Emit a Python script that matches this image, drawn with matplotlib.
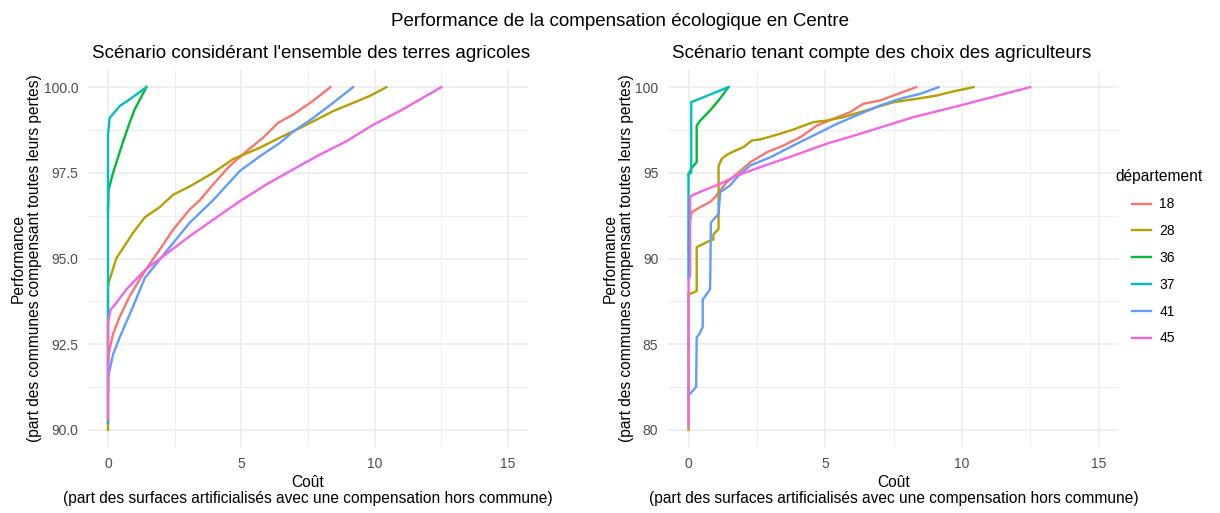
import matplotlib
matplotlib.use("Agg")
import matplotlib.pyplot as plt
from matplotlib.ticker import MultipleLocator

plt.rcParams['font.family'] = ['Liberation Sans', 'DejaVu Sans']

departements = ["18", "28", "36", "37", "41", "45"]
colors = ["#F8766D", "#B79F00", "#00BA38", "#00BFC4", "#619CFF", "#F564E3"]

# Scenario 1: all agricultural land  (cost x, performance y)
s1_x = {
    "18": [0, 0.02, 0.19, 0.44, 0.81, 1.44, 1.94, 2.44, 3.06, 3.44, 3.94, 4.56, 5.19, 5.81, 6.38, 6.94, 7.69, 8.34],
    "28": [0, 0, 0.04, 0.31, 0.56, 0.94, 1.38, 1.94, 2.44, 3.06, 3.94, 4.69, 5.69, 6.56, 7.44, 8.44, 9.19, 9.81, 10.44],
    "36": [0, 0.02, 0.19, 0.56, 0.81, 1.0, 1.44],
    "37": [0, 0, 0.06, 0.44, 0.81, 1.44],
    "41": [0, 0.02, 0.19, 0.44, 0.94, 1.38, 1.94, 2.44, 3.06, 3.94, 4.94, 5.69, 6.44, 6.94, 7.69, 8.44, 9.19],
    "45": [0, 0, 0.09, 0.31, 0.69, 1.06, 1.44, 2.06, 3.06, 3.94, 4.94, 5.94, 6.94, 7.94, 8.94, 9.94, 10.94, 12.5],
}
s1_y = {
    "18": [91.9, 92.2, 92.8, 93.3, 93.9, 94.7, 95.26, 95.84, 96.43, 96.7, 97.16, 97.7, 98.13, 98.52, 98.96, 99.2, 99.6, 100.0],
    "28": [90.0, 94.2, 94.33, 95.0, 95.3, 95.75, 96.2, 96.5, 96.86, 97.1, 97.5, 97.9, 98.23, 98.57, 98.9, 99.3, 99.54, 99.74, 100.0],
    "36": [96.4, 97.0, 97.5, 98.4, 98.96, 99.35, 100.0],
    "37": [90.2, 98.6, 99.1, 99.45, 99.64, 100.0],
    "41": [91.0, 91.6, 92.2, 92.7, 93.6, 94.43, 94.97, 95.45, 96.04, 96.7, 97.55, 97.98, 98.37, 98.7, 99.1, 99.54, 100.0],
    "45": [90.3, 93.1, 93.5, 93.7, 94.1, 94.4, 94.7, 95.06, 95.65, 96.13, 96.67, 97.16, 97.6, 98.03, 98.42, 98.9, 99.3, 100.0],
}

# Scenario 2: farmers' choices
s2_x = {
    "18": [0, 0.04, 0.12, 0.43, 0.79, 0.98, 1.16, 1.4, 1.77, 2.26, 2.87, 3.48, 4.09, 4.7, 5.3, 5.91, 6.4, 7.01, 7.5, 8.33],
    "28": [0, 0, 0.3, 0.3, 0.43, 0.79, 0.91, 0.91, 1.1, 1.1, 1.22, 1.4, 1.65, 2.01, 2.32, 2.62, 3.23, 3.84, 4.57, 5.06, 5.67, 6.28, 6.89, 7.5, 8.35, 9.09, 9.57, 10.43],
    "36": [0, 0.12, 0.3, 0.3, 0.43, 0.79, 1.1, 1.46],
    "37": [0, 0, 0.1, 0.1, 1.46],
    "41": [0, 0.28, 0.3, 0.4, 0.52, 0.52, 0.79, 0.82, 1.1, 1.16, 1.52, 1.83, 2.26, 2.99, 3.84, 4.7, 5.43, 6.28, 7.01, 7.74, 8.48, 9.15],
    "45": [0, 0, 0.06, 0.06, 0.12, 0.55, 1.16, 1.77, 2.62, 3.84, 5.06, 6.28, 8.23, 9.94, 12.5],
}
s2_y = {
    "18": [90.5, 92.1, 92.7, 93.0, 93.3, 93.6, 93.97, 94.45, 94.94, 95.62, 96.2, 96.6, 97.08, 97.76, 98.15, 98.54, 99.03, 99.22, 99.51, 100.0],
    "28": [80.0, 87.9, 88.1, 90.66, 90.76, 91.05, 91.1, 91.4, 91.73, 95.4, 95.82, 96.05, 96.25, 96.5, 96.89, 96.95, 97.22, 97.53, 97.96, 98.05, 98.25, 98.54, 98.83, 99.12, 99.32, 99.51, 99.71, 100.0],
    "36": [94.9, 95.3, 95.62, 97.76, 98.05, 98.64, 99.22, 100.0],
    "37": [88.8, 94.95, 95.0, 99.12, 100.0],
    "41": [82.0, 82.5, 85.4, 85.6, 86.0, 87.6, 88.2, 92.1, 92.6, 93.87, 94.26, 94.84, 95.43, 95.9, 96.6, 97.28, 97.86, 98.44, 98.93, 99.32, 99.61, 100.0],
    "45": [80.2, 88.8, 89.0, 93.58, 93.68, 93.97, 94.36, 94.84, 95.33, 96.0, 96.7, 97.28, 98.25, 98.93, 100.0],
}

main_title = "Performance de la compensation écologique en Centre"
titles = ["Scénario considérant l'ensemble des terres agricoles",
          "Scénario tenant compte des choix des agriculteurs"]
xlabel = "Coût\n(part des surfaces artificialisés avec une compensation hors commune)"
ylabel = "Performance\n(part des communes compensant toutes leurs pertes)"
legend_title = "département"
x_ticks = [0, 5, 10, 15]
y_ticks_1 = [90.0, 92.5, 95.0, 97.5, 100.0]
y_ticks_2 = [80, 85, 90, 95, 100]

W, H = 1220, 513
fig = plt.figure(figsize=(W / 100, H / 100), dpi=100)
fig.patch.set_facecolor("white")

ax1 = fig.add_axes([88 / W, 1 - 447 / H, (528 - 88) / W, (447 - 70) / H])
ax2 = fig.add_axes([668 / W, 1 - 447 / H, (1119 - 668) / W, (447 - 70) / H])

grid_col = "#EBEBEB"
lw = 1.7

def style(ax, yticks, ymin_step, ylim, fmt):
    ax.set_facecolor("white")
    for s in ax.spines.values():
        s.set_visible(False)
    ax.set_xlim(-0.75, 15.75)
    ax.set_ylim(*ylim)
    ax.set_xticks(x_ticks)
    ax.set_xticklabels([str(t) for t in x_ticks])
    ax.xaxis.set_minor_locator(MultipleLocator(2.5))
    ax.set_yticks(yticks)
    ax.set_yticklabels([fmt.format(t) for t in yticks])
    ax.yaxis.set_minor_locator(MultipleLocator(ymin_step))
    ax.grid(True, which="major", color=grid_col, lw=1.1)
    ax.grid(True, which="minor", color=grid_col, lw=0.6)
    ax.tick_params(which="both", length=0)
    ax.tick_params(axis="both", labelsize=10, labelcolor="#4D4D4D", pad=7)
    ax.set_axisbelow(True)
    ax.set_xlabel(xlabel, fontsize=11.2, color="black", labelpad=3, linespacing=1.12)
    ax.set_ylabel(ylabel, fontsize=11.2, color="black", labelpad=1, linespacing=1.12)

style(ax1, y_ticks_1, 1.25, (89.5, 100.5), "{:.1f}")
style(ax2, y_ticks_2, 2.5, (79, 101), "{:.0f}")

for d, c in zip(departements, colors):
    ax1.plot(s1_x[d], s1_y[d], color=c, lw=lw, label=d, solid_joinstyle="round")
    ax2.plot(s2_x[d], s2_y[d], color=c, lw=lw, label=d, solid_joinstyle="round")

ax1.set_title(titles[0], fontsize=13.5, loc="left", x=0.01, pad=9)
ax2.set_title(titles[1], fontsize=13.5, loc="left", x=0.008, pad=9)
fig.text(0.508, 1 - 21 / H, main_title, fontsize=13.5, ha="center", va="center")

fig.text(1115 / W, 1 - 176 / H, legend_title, fontsize=11.2, ha="left", va="center")
leg = fig.legend(*ax2.get_legend_handles_labels(),
                 loc="upper left", bbox_to_anchor=(1119 / W, 1 - 185 / H),
                 frameon=False, fontsize=10,
                 handlelength=1.4, handletextpad=0.6, labelspacing=0.92)

fig.savefig("out.png", dpi=100)
